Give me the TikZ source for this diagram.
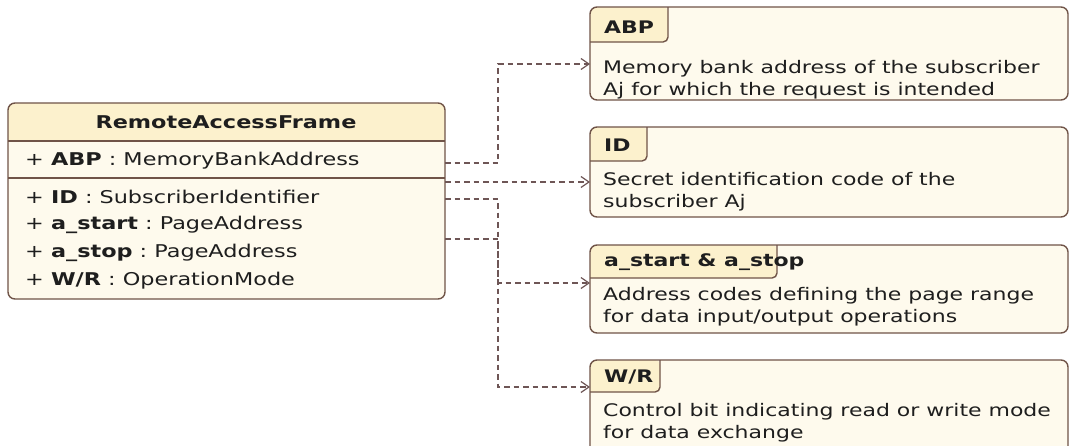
\documentclass[tikz,border=0pt]{standalone}
\usepackage{fontspec}
\setmainfont{DejaVu Sans}[FakeStretch=1.27]
\usetikzlibrary{arrows.meta}
\definecolor{hdr}{RGB}{252,241,205}
\definecolor{bdy}{RGB}{254,250,237}
\definecolor{brd}{RGB}{112,84,72}
\definecolor{lnk}{RGB}{110,86,86}
\definecolor{txt}{RGB}{30,30,30}
\newcommand{\us}{{\char"5F}}
\frenchspacing
\tikzset{
  boxline/.style={draw=brd, line width=1.4pt},
  rowtext/.style={anchor=west, inner sep=0pt, font=\fontsize{17.6}{20}\selectfont, text=txt},
  notetext/.style={anchor=north west, inner sep=0pt, align=left, font=\fontsize{17.3}{22.5}\selectfont, text=txt},
  tabtext/.style={anchor=west, inner sep=0pt, font=\bfseries\fontsize{17.3}{20}\selectfont, text=txt},
  link/.style={draw=lnk, line width=1.2pt, dash pattern=on 5.5pt off 4pt},
  linkarrow/.style={link, -{Straight Barb[length=8pt,width=11pt,line width=1.2pt]}},
}
\begin{document}
\begin{tikzpicture}[x=1pt,y=-1pt]
\useasboundingbox (0,0) rectangle (1070,445);
\fill[white] (0,0) rectangle (1070,445);
% ---- main class box
\path[fill=bdy] (8,103) [rounded corners=7] rectangle (445,299);
\begin{scope}
  \clip[rounded corners=7] (8,103) rectangle (445,299);
  \fill[hdr] (8,103) rectangle (445,141);
\end{scope}
\draw[boxline] (8,141) -- (445,141);
\draw[boxline] (8,178) -- (445,178);
\draw[boxline, rounded corners=7] (8,103) rectangle (445,299);
\node (cls) [inner sep=0pt, font=\bfseries\fontsize{17.6}{20}\selectfont, text=txt] at (226,122) {RemoteAccessFrame};
\node (r1) [rowtext] at (25,161) {+ \textbf{ABP} : MemoryBankAddress};
\node (r2) [rowtext] at (25,197) {+ \textbf{ID} : SubscriberIdentifier};
\node (r3) [rowtext] at (25,225) {+ \textbf{a\us start} : PageAddress};
\node (r4) [rowtext] at (25,253) {+ \textbf{a\us stop} : PageAddress};
\node (r5) [rowtext] at (25,281) {+ \textbf{W/R} : OperationMode};
% ---- notes
\foreach \nm/\top/\bot/\tabr/\tabb in {abp/7/100/668/42, id/127/217/647/161, ast/245/333/777/278, wr/360/470/660/392}{
  \path[fill=bdy] (590,\top) [rounded corners=7] rectangle (1068,\bot);
  \begin{scope}
    \clip[rounded corners=7] (590,\top) rectangle (1068,\bot);
    \fill[hdr] (590,\top) [rounded corners=5] -- (\tabr,\top) -- (\tabr,\tabb) -- (590,\tabb) [sharp corners] -- cycle;
    \fill[hdr] (590,\top) rectangle (\tabr-8,\tabb);
  \end{scope}
  \draw[boxline, rounded corners=5] (590,\tabb) -- (\tabr,\tabb) -- (\tabr,\top);
  \draw[boxline, rounded corners=7] (590,\top) rectangle (1068,\bot);
  \coordinate (\nm) at (590,\top);
}
\node (abpt) [tabtext] at (604,27) {ABP};
\node (idt) [tabtext] at (604,145) {ID};
\node (astt) [tabtext] at (604,262) {a\us start \& a\us stop};
\node (wrt) [tabtext] at (604,377) {W/R};
\node (abpd) [notetext] at (603,60) {Memory bank address of the subscriber\\Aj for which the request is intended};
\node (idd) [notetext] at (603,172) {Secret identification code of the\\subscriber Aj};
\node (astd) [notetext] at (603,287) {Address codes defining the page range\\for data input/output operations};
\node (wrd) [notetext] at (603,403) {Control bit indicating read or write mode\\for data exchange};
% ---- connectors
\coordinate (s1) at (445,163);
\coordinate (s2) at (445,182);
\coordinate (s3) at (445,199);
\coordinate (s4) at (445,239);
\coordinate (t1) at (590,64);
\coordinate (t2) at (590,182);
\coordinate (t3) at (590,283);
\coordinate (t4) at (590,387);
\draw[linkarrow] (s1) -- (498,163) -- (498,64) -- (t1);
\draw[linkarrow] (s2) -- (t2);
\draw[linkarrow] (s3) -- (498,199) -- (498,387) -- (t4);
\draw[linkarrow] (s4) -- (498,239) -- (498,283) -- (t3);
\end{tikzpicture}
\end{document}
